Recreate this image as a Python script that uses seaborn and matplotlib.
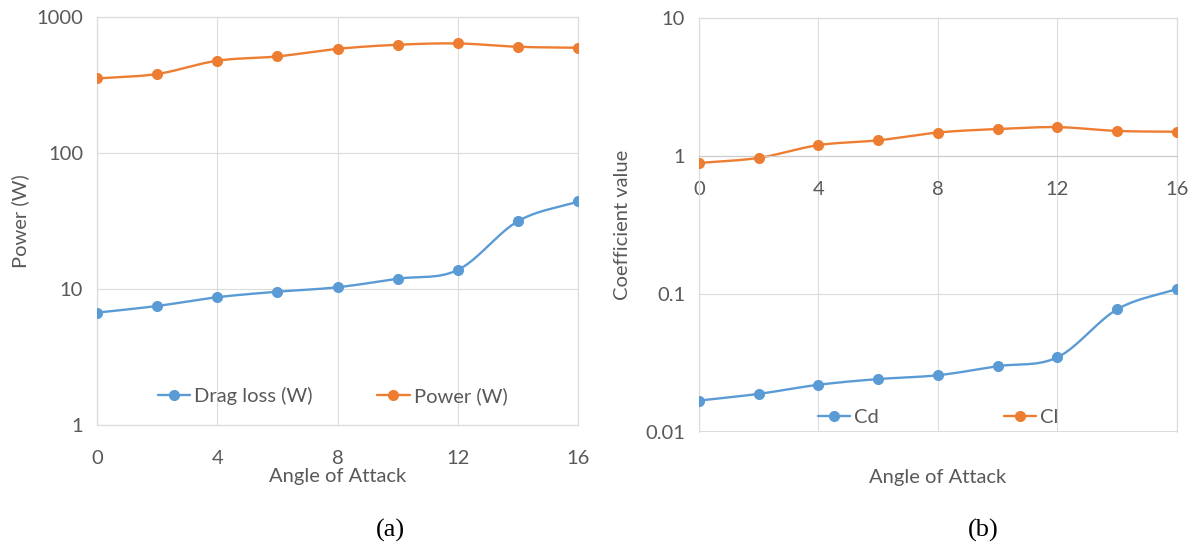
import numpy as np
import pandas as pd
import matplotlib
matplotlib.use("Agg")
import matplotlib.pyplot as plt
from matplotlib.lines import Line2D
from matplotlib.ticker import FixedLocator, FixedFormatter, NullLocator
import seaborn as sns

# ---- data -----------------------------------------------------------------
angle = [0, 2, 4, 6, 8, 10, 12, 14, 16]
drag_loss_w = [6.7, 7.5, 8.7, 9.55, 10.3, 11.9, 13.8, 31.5, 44.0]
power_w = [353, 381, 477, 513, 583, 625, 639, 604, 594]
cd = [0.0169, 0.0189, 0.0220, 0.0242, 0.0258, 0.0300, 0.0348, 0.0775, 0.109]
cl = [0.89, 0.97, 1.20, 1.30, 1.48, 1.57, 1.62, 1.52, 1.50]

x_ticks = [0, 4, 8, 12, 16]
power_ticks = [1, 10, 100, 1000]
power_tick_labels = ["1", "10", "100", "1000"]
coef_ticks = [0.01, 0.1, 1, 10]
coef_tick_labels = ["0.01", "0.1", "1", "10"]

BLUE = "#5B9BD5"
ORANGE = "#ED7D31"
GRID = "#DCDCDC"
TEXT = "#595959"
FS = 14.5

sns.set_theme(style="white")
plt.rcParams["font.family"] = ["Lato", "DejaVu Sans"]


def smooth_log(xs, ys, n=30):
    """Catmull-Rom curve through the points, in log10(y) space."""
    x = np.asarray(xs, float)
    y = np.log10(np.asarray(ys, float))
    px = np.concatenate([[2 * x[0] - x[1]], x, [2 * x[-1] - x[-2]]])
    py = np.concatenate([[2 * y[0] - y[1]], y, [2 * y[-1] - y[-2]]])
    out_x, out_y = [], []
    t = np.linspace(0, 1, n, endpoint=False)
    for i in range(1, len(px) - 2):
        for arr, out in ((px, out_x), (py, out_y)):
            p0, p1, p2, p3 = arr[i - 1], arr[i], arr[i + 1], arr[i + 2]
            seg = 0.5 * ((2 * p1) + (-p0 + p2) * t
                         + (2 * p0 - 5 * p1 + 4 * p2 - p3) * t ** 2
                         + (-p0 + 3 * p1 - 3 * p2 + p3) * t ** 3)
            out.extend(seg)
    out_x.append(x[-1])
    out_y.append(y[-1])
    return pd.DataFrame({"x": out_x, "y": 10 ** np.asarray(out_y)})


def draw_series(ax, xs, ys, color):
    curve = smooth_log(xs, ys)
    sns.lineplot(data=curve, x="x", y="y", ax=ax, color=color, lw=1.7,
                 sort=False, estimator=None)
    sns.scatterplot(x=xs, y=ys, ax=ax, color=color, s=64, linewidth=0,
                    zorder=3)


def style_axes(ax, yticks, ylabels):
    ax.set_yscale("log")
    ax.set_xlim(0, 16)
    ax.set_ylim(yticks[0], yticks[-1])
    ax.xaxis.set_major_locator(FixedLocator(x_ticks))
    ax.yaxis.set_major_locator(FixedLocator(yticks))
    ax.yaxis.set_major_formatter(FixedFormatter(ylabels))
    ax.yaxis.set_minor_locator(NullLocator())
    ax.grid(True, color=GRID, lw=0.8)
    for sp in ax.spines.values():
        sp.set_color(GRID)
        sp.set_linewidth(0.9)
    ax.tick_params(length=0, labelsize=FS, colors=TEXT)
    ax.tick_params(axis="x", pad=18)
    ax.tick_params(axis="y", pad=10)
    ax.set_xlabel("")
    ax.set_ylabel("")


fig = plt.figure(figsize=(11.96, 5.5), dpi=100)
ax1 = fig.add_axes([0.0811, 0.2273, 0.4022, 0.7418])
ax2 = fig.add_axes([0.5844, 0.2145, 0.3997, 0.7527])

# (a) power
draw_series(ax1, angle, drag_loss_w, BLUE)
draw_series(ax1, angle, power_w, ORANGE)
style_axes(ax1, power_ticks, power_tick_labels)
ax1.set_xlabel("Angle of Attack", fontsize=FS, color=TEXT, labelpad=1)
ax1.set_ylabel("Power (W)", fontsize=FS, color=TEXT, labelpad=5)

# (b) coefficients
draw_series(ax2, angle, cd, BLUE)
draw_series(ax2, angle, cl, ORANGE)
style_axes(ax2, coef_ticks, coef_tick_labels)
ax2.spines["bottom"].set_position(("data", 1))
ax2.spines["bottom"].set_color("#CDCDCD")
ax2.axhline(0.01, color=GRID, lw=1.4, zorder=0)
ax2.set_ylabel("Coefficient value", fontsize=FS, color=TEXT, labelpad=10)
ax2.text(0.5, -0.11, "Angle of Attack", transform=ax2.transAxes,
         ha="center", va="center", fontsize=FS, color=TEXT)


def legend_handles(labels):
    return [Line2D([], [], color=c, lw=1.7, marker="o", markersize=8,
                   markeredgewidth=0, label=lab)
            for c, lab in zip((BLUE, ORANGE), labels)]


ax1.legend(handles=legend_handles(["Drag loss (W)", "Power (W)"]), ncol=2,
           loc="center", bbox_to_anchor=(0.49, 0.07), frameon=False,
           fontsize=FS, labelcolor=TEXT, handlelength=1.6, handletextpad=0.2,
           columnspacing=3.2)
ax2.legend(handles=legend_handles(["Cd", "Cl"]), ncol=2,
           loc="center", bbox_to_anchor=(0.5, 0.035), frameon=False,
           fontsize=FS, labelcolor=TEXT, handlelength=1.6, handletextpad=0.2,
           columnspacing=6.2)

fig.text(390 / 1196, 1 - 530 / 550, "(a)", ha="center", va="center",
         fontsize=19, family="Liberation Serif", color="black")
fig.text(983 / 1196, 1 - 530 / 550, "(b)", ha="center", va="center",
         fontsize=19, family="Liberation Serif", color="black")

fig.savefig("out.png", dpi=100, facecolor="white")
